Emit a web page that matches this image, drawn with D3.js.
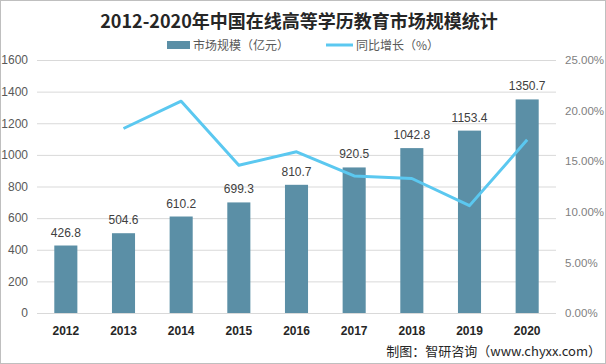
<!DOCTYPE html>
<html><head><meta charset="utf-8">
<script src="https://cdn.jsdelivr.net/npm/d3@7"></script>
<style>body{margin:0;background:#fff;}svg{display:block;font-family:"Noto Sans CJK SC","Microsoft YaHei",sans-serif;}</style>
</head><body>
<svg id="c" width="606" height="364"></svg>
<script>
const years = ["2012","2013","2014","2015","2016","2017","2018","2019","2020"];
const marketSize = [426.8,504.6,610.2,699.3,810.7,920.5,1042.8,1153.4,1350.7];
const growth = [null,18.23,20.93,14.60,15.93,13.54,13.29,10.61,17.11];
const leftTicks = [0,200,400,600,800,1000,1200,1400,1600];
const rightTicks = [0,5,10,15,20,25];

const svg = d3.select("#c");
const W = 606, H = 364;
svg.append("rect").attr("x",0.5).attr("y",0.5).attr("width",W-1).attr("height",H-1)
  .attr("fill","#fff").attr("stroke","#bfbfbf");

const x = d3.scaleBand().domain(years).range([37,556]).paddingInner(0.6).paddingOuter(0.3);
const y = d3.scaleLinear().domain([0,1600]).range([313,60]);
const y2 = d3.scaleLinear().domain([0,25]).range([313,60]);

// gridlines
svg.append("g").selectAll("line").data(leftTicks).join("line")
  .attr("x1",37).attr("x2",556).attr("y1",d=>y(d)+0.5).attr("y2",d=>y(d)+0.5)
  .attr("stroke","#d9d9d9").attr("stroke-width",1);

// left axis
const la = svg.append("g").attr("transform","translate(37,0)")
  .call(d3.axisLeft(y).tickValues(leftTicks).tickSize(0).tickPadding(9).tickFormat(d3.format("d")));
la.select(".domain").remove();
la.selectAll("text").attr("fill","#595959").style("font-size","12px").style("font-family","Liberation Sans, Arial, sans-serif");

// right axis
const ra = svg.append("g").attr("transform","translate(556,0)")
  .call(d3.axisRight(y2).tickValues(rightTicks).tickSize(0).tickPadding(9).tickFormat(d=>d.toFixed(2)+"%"));
ra.select(".domain").remove();
ra.selectAll("text").attr("fill","#7f7f7f").style("font-size","11.5px").style("font-family","Liberation Sans, Arial, sans-serif");

// bars
svg.append("g").selectAll("rect").data(marketSize).join("rect")
  .attr("x",(d,i)=>x(years[i])).attr("width",x.bandwidth())
  .attr("y",d=>y(d)).attr("height",d=>y(0)-y(d)).attr("fill","#5b8fa6");

// bar labels
svg.append("g").selectAll("text").data(marketSize).join("text")
  .attr("x",(d,i)=>x(years[i])+x.bandwidth()/2).attr("y",d=>y(d)-9)
  .attr("text-anchor","middle").attr("fill","#404040")
  .style("font-size","12px").style("font-family","Liberation Sans, Arial, sans-serif")
  .text(d=>d.toFixed(1));

// line
const line = d3.line().defined(d=>d!=null)
  .x((d,i)=>x(years[i])+x.bandwidth()/2).y(d=>y2(d));
svg.append("path").datum(growth).attr("d",line).attr("fill","none")
  .attr("stroke","#5bc8f0").attr("stroke-width",3).attr("stroke-linejoin","round");

// x labels
svg.append("g").selectAll("text").data(years).join("text")
  .attr("x",d=>x(d)+x.bandwidth()/2).attr("y",335).attr("text-anchor","middle")
  .attr("fill","#262626").style("font-size","12px").style("font-weight","bold")
  .style("font-family","Liberation Sans, Arial, sans-serif").text(d=>d);

// title
svg.append("text").attr("x",299).attr("y",28).attr("text-anchor","middle")
  .attr("fill","#262626").style("font-size","18px").style("font-weight","bold")
  .text("2012-2020年中国在线高等学历教育市场规模统计");

// legend
svg.append("rect").attr("x",167).attr("y",41).attr("width",23).attr("height",8).attr("fill","#5b8fa6");
svg.append("text").attr("x",193).attr("y",50).attr("fill","#595959").style("font-size","12px").text("市场规模（亿元）");
svg.append("line").attr("x1",326).attr("x2",353).attr("y1",45).attr("y2",45).attr("stroke","#5bc8f0").attr("stroke-width",3);
svg.append("text").attr("x",356).attr("y",50).attr("fill","#595959").style("font-size","12px").text("同比增长（%）");

// source
svg.append("text").attr("x",601).attr("y",356).attr("text-anchor","end")
  .attr("fill","#262626").style("font-size","13px").text("制图：智研咨询（www.chyxx.com）");
</script>
</body></html>
